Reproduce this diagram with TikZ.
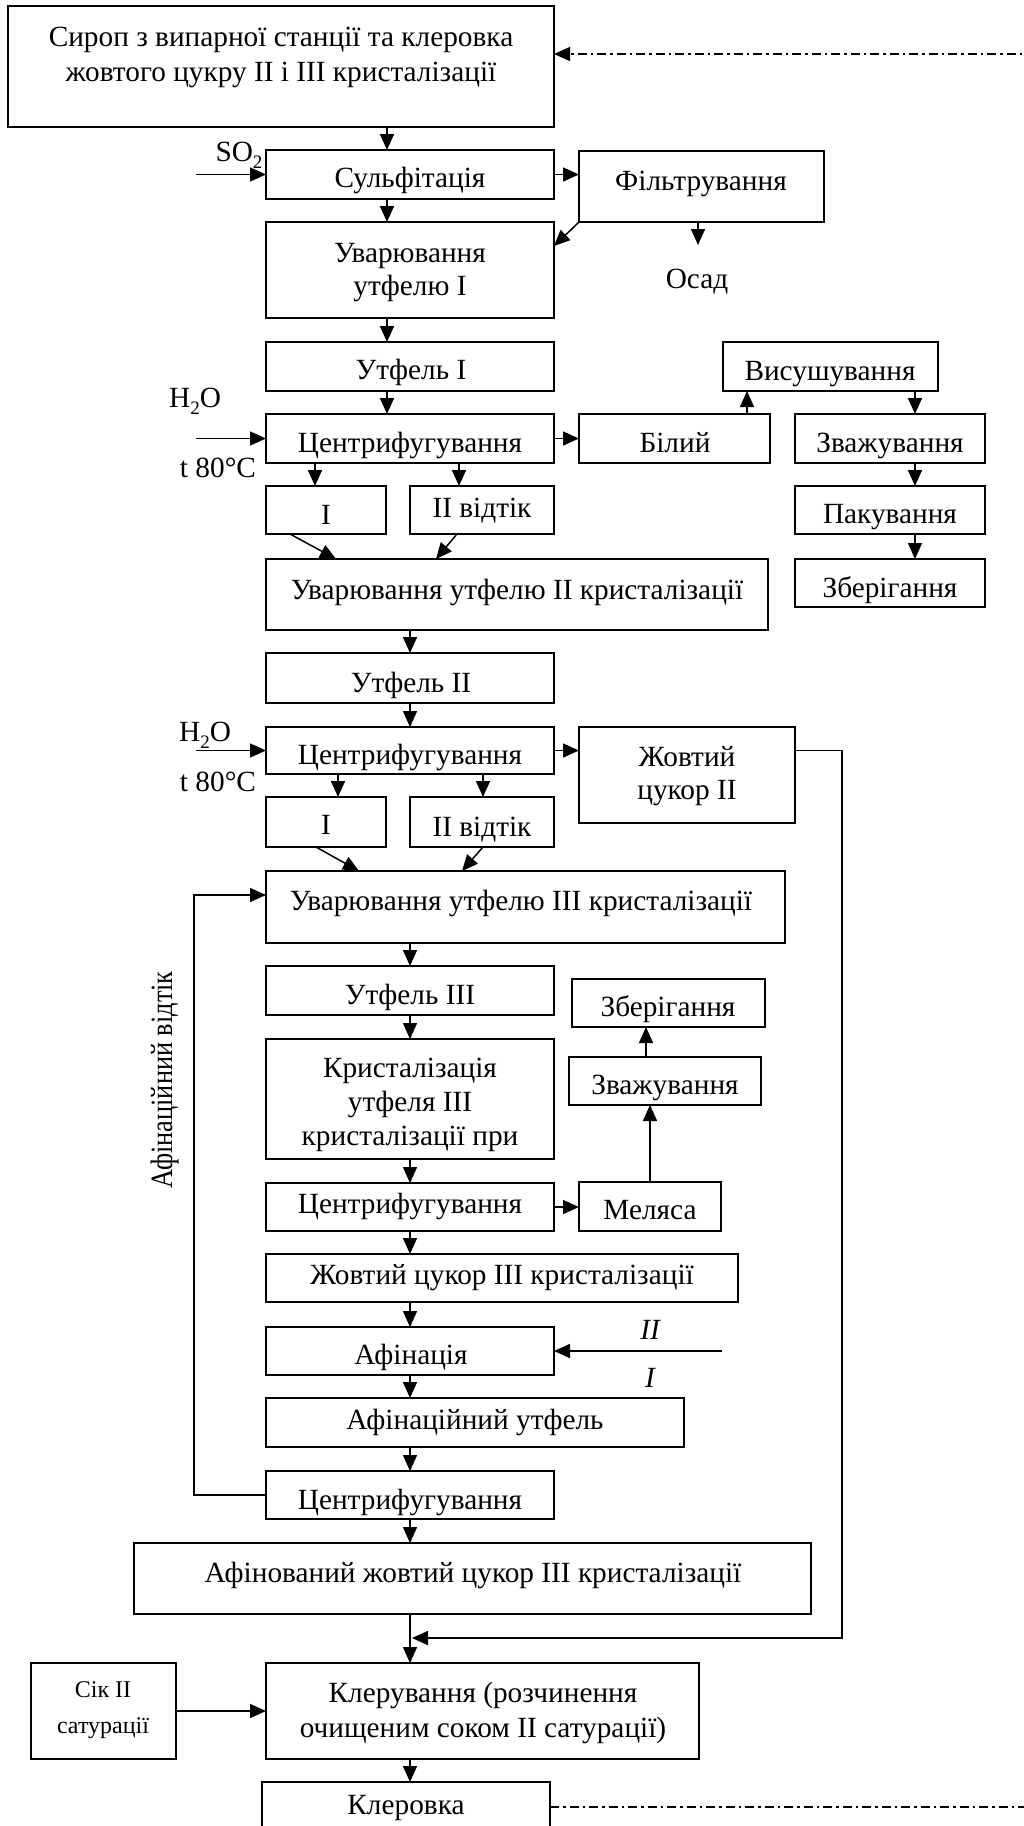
\documentclass[tikz,border=0pt]{standalone}
\usepackage{fontspec}
\setmainfont{Liberation Serif}
\usetikzlibrary{arrows.meta,calc}
\newcommand\bx[5]{\node[box,minimum width={(#4-#2)*1pt},minimum height={(#5-#3)*1pt}] (#1) at (#2,#3) {};}
\newcommand\sub[1]{\raisebox{-0.25em}{\fontsize{19}{19}\selectfont #1}}
\begin{document}
\begin{tikzpicture}[x=1pt,y=-1pt,
 box/.style={draw,line width=1.8pt,inner sep=0pt,outer sep=0pt,anchor=north west},
 txt/.style={font=\fontsize{29.3}{34}\selectfont,inner sep=0pt,anchor=mid,yshift=-7pt},
 stxt/.style={font=\fontsize{24}{28}\selectfont,inner sep=0pt,anchor=mid,yshift=-7pt},
 itxt/.style={txt,font=\fontsize{29.3}{34}\selectfont\itshape},
 vtxt/.style={font=\fontsize{31}{31}\selectfont,inner sep=0pt,anchor=base,rotate=90},
 arr/.style={line width=1.5pt,-{Triangle[length=16pt,width=14pt]}},
 dd/.style={line width=1.5pt,dash pattern=on 9pt off 4pt on 2.5pt off 4pt}]
\useasboundingbox (0,0) rectangle (1023,1826);
% coordinates for connector columns
\coordinate (c387) at (387,0);
\coordinate (c410) at (410,0);
\coordinate (c747) at (747,0);
\coordinate (c915) at (915,0);
\coordinate (c315) at (315,0);
\coordinate (c459) at (459,0);
\coordinate (c290) at (290,0);
\coordinate (c336) at (336,0);
\coordinate (c457) at (457,0);
\coordinate (c436) at (436,0);
\coordinate (c338) at (338,0);
\coordinate (c483) at (483,0);
\coordinate (c316) at (316,0);
\coordinate (c359) at (359,0);
\coordinate (c462) at (462,0);
\coordinate (c650) at (650,0);
\coordinate (c646) at (646,0);
\coordinate (lp) at (194,0);
\coordinate (rr) at (842,0);

% boxes
\bx{top}{8}{6}{554}{127}
\node[txt] (top-a) at (281,37) {Сироп з випарної станції та клеровка};
\node[txt] (top-b) at (281,72) {жовтого цукру II і III кристалізації};
\bx{sulf}{266}{150}{554}{199}
\node[txt] (sulf-t) at (410,178) {Сульфітація};
\bx{filt}{579}{151}{824}{222}
\node[txt] (filt-t) at (701,181) {Фільтрування};
\bx{uv1}{266}{222}{554}{318}
\node[txt] (uv1-a) at (410,253) {Уварювання};
\node[txt] (uv1-b) at (410,286) {утфелю I};
\node[txt] (osad) at (697,279) {Осад};
\node[txt] (so2) at (239,152) {SO\sub{2}};
\bx{ut1}{266}{342}{554}{391}
\node[txt] (ut1-t) at (411,370) {Утфель I};
\node[txt] (h2o-a) at (195,398) {H\sub{2}O};
\bx{cen1}{266}{414}{554}{463}
\node[txt] (cen1-t) at (410,443) {Центрифугування};
\node[txt] (t80-a) at (218,468) {t 80°C};
\bx{bil}{579}{414}{770}{463}
\node[txt] (bil-t) at (675,443) {Білий};
\bx{vis}{723}{342}{938}{391}
\node[txt] (vis-t) at (830,371) {Висушування};
\bx{zv1}{795}{414}{985}{463}
\node[txt] (zv1-t) at (890,443) {Зважування};
\bx{pak}{795}{486}{985}{534}
\node[txt] (pak-t) at (890,514) {Пакування};
\bx{zb1}{795}{559}{985}{607}
\node[txt] (zb1-t) at (890,588) {Зберігання};
\bx{o1}{266}{486}{386}{534}
\node[txt] (o1-t) at (326,515) {I};
\bx{o2}{410}{486}{554}{534}
\node[txt] (o2-t) at (482,508) {II відтік};
\bx{uv2}{266}{559}{768}{630}
\node[txt] (uv2-t) at (517,590) {Уварювання утфелю II кристалізації};
\bx{ut2}{266}{653}{554}{703}
\node[txt] (ut2-t) at (411,683) {Утфель II};
\bx{cen2}{266}{727}{554}{774}
\node[txt] (cen2-t) at (410,755) {Центрифугування};
\node[txt] (h2o-b) at (205,732) {H\sub{2}O};
\node[txt] (t80-b) at (218,782) {t 80°C};
\bx{zh2}{579}{727}{795}{823}
\node[txt] (zh2-a) at (687,757) {Жовтий};
\node[txt] (zh2-b) at (687,790) {цукор II};
\bx{o3}{266}{797}{386}{847}
\node[txt] (o3-t) at (326,825) {I};
\bx{o4}{410}{797}{554}{847}
\node[txt] (o4-t) at (482,827) {II відтік};
\bx{uv3}{266}{871}{785}{943}
\node[txt] (uv3-t) at (521,901) {Уварювання утфелю III кристалізації};
\bx{ut3}{266}{966}{554}{1015}
\node[txt] (ut3-t) at (410,995) {Утфель III};
\bx{zb2}{572}{979}{765}{1027}
\node[txt] (zb2-t) at (668,1007) {Зберігання};
\bx{zv2}{569}{1057}{761}{1105}
\node[txt] (zv2-t) at (665,1085) {Зважування};
\bx{kr}{266}{1039}{554}{1159}
\node[txt] (kr-a) at (410,1068) {Кристалізація};
\node[txt] (kr-b) at (410,1102) {утфеля III};
\node[txt] (kr-c) at (410,1136) {кристалізації при};
\bx{cen3}{266}{1183}{554}{1231}
\node[txt] (cen3-t) at (410,1204) {Центрифугування};
\bx{mel}{579}{1182}{721}{1231}
\node[txt] (mel-t) at (650,1210) {Меляса};
\bx{zh3}{266}{1254}{738}{1302}
\node[txt] (zh3-t) at (502,1275) {Жовтий цукор III кристалізації};
\bx{af}{266}{1327}{554}{1375}
\node[txt] (af-t) at (411,1355) {Афінація};
\node[itxt] (lII) at (650,1330) {II};
\node[itxt] (lI) at (650,1378) {I};
\bx{afu}{266}{1398}{684}{1447}
\node[txt] (afu-t) at (475,1420) {Афінаційний утфель};
\bx{cen4}{266}{1471}{554}{1519}
\node[txt] (cen4-t) at (410,1500) {Центрифугування};
\bx{afin}{134}{1543}{811}{1614}
\node[txt] (afin-t) at (473,1573) {Афінований жовтий цукор III кристалізації};
\bx{sik}{31}{1663}{176}{1759}
\node[stxt] (sik-a) at (103,1688) {Сік II};
\node[stxt] (sik-b) at (103,1724) {сатурації};
\bx{kler}{266}{1663}{699}{1759}
\node[txt] (kler-a) at (483,1693) {Клерування (розчинення};
\node[txt] (kler-b) at (483,1728) {очищеним соком II сатурації)};
\bx{klr}{262}{1782}{550}{1860}
\node[txt] (klr-t) at (406,1805) {Клеровка};
\node[vtxt] (aft) at (172,1080) {\scalebox{0.85}[1]{Афінаційний відтік}};

% free-end coordinates
\coordinate (so2in) at (196,174.5);
\coordinate (h1) at (196,438.5);
\coordinate (h2) at (196,750.5);
\coordinate (osadarr) at (698,245);
\coordinate (uv3in) at (266,895);
\coordinate (afin-in) at (722,1351);
\coordinate (ret) at (412,1638);
\coordinate (rt) at (1035,54);
\coordinate (rb) at (1035,1807);

% connectors
\draw[arr] (top.south -| c387) -- (sulf.north -| c387);
\draw[arr] (sulf.south -| c387) -- (uv1.north -| c387);
\draw[arr] (uv1.south -| c387) -- (ut1.north -| c387);
\draw[arr] (ut1.south -| c387) -- (cen1.north -| c387);
\draw[arr] (so2in) -- (sulf.west);
\draw[arr] (sulf.east) -- (filt.west |- sulf.east);
\draw[arr] (filt.south west) -- ($(uv1.north east)+(0,24)$);
\draw[arr] (filt.south -| osadarr) -- (osadarr);
\draw[arr] (h1) -- (cen1.west);
\draw[arr] (cen1.east) -- (bil.west);
\draw[arr] (bil.north -| c747) -- (vis.south -| c747);
\draw[arr] (vis.south -| c915) -- (zv1.north -| c915);
\draw[arr] (zv1.south -| c915) -- (pak.north -| c915);
\draw[arr] (pak.south -| c915) -- (zb1.north -| c915);
\draw[arr] (cen1.south -| c315) -- (o1.north -| c315);
\draw[arr] (cen1.south -| c459) -- (o2.north -| c459);
\draw[arr] (o1.south -| c290) -- (uv2.north -| c336);
\draw[arr] (o2.south -| c457) -- (uv2.north -| c436);
\draw[arr] (uv2.south -| c410) -- (ut2.north -| c410);
\draw[arr] (ut2.south -| c410) -- (cen2.north -| c410);
\draw[arr] (h2) -- (cen2.west);
\draw[arr] (cen2.east) -- (zh2.west |- cen2.east);
\draw[arr] (cen2.south -| c338) -- (o3.north -| c338);
\draw[arr] (cen2.south -| c483) -- (o4.north -| c483);
\draw[arr] (o3.south -| c316) -- (uv3.north -| c359);
\draw[arr] (o4.south -| c483) -- (uv3.north -| c462);
\draw[arr] (uv3.south -| c410) -- (ut3.north -| c410);
\draw[arr] (ut3.south -| c410) -- (kr.north -| c410);
\draw[arr] (kr.south -| c410) -- (cen3.north -| c410);
\draw[arr] (cen3.east) -- (mel.west |- cen3.east);
\draw[arr] (mel.north -| c650) -- (zv2.south -| c650);
\draw[arr] (zv2.north -| c646) -- (zb2.south -| c646);
\draw[arr] (cen3.south -| c410) -- (zh3.north -| c410);
\draw[arr] (zh3.south -| c410) -- (af.north -| c410);
\draw[arr] (afin-in) -- (af.east);
\draw[arr] (af.south -| c410) -- (afu.north -| c410);
\draw[arr] (afu.south -| c410) -- (cen4.north -| c410);
\draw[arr] (cen4.west) -- (lp |- cen4.west) -- (lp |- uv3in) -- (uv3in);
\draw[arr] (cen4.south -| c410) -- (afin.north -| c410);
\draw[arr] (zh2.east |- cen2.east) -- (rr |- cen2.east) -- (rr |- ret) -- (ret);
\draw[arr] (afin.south -| c410) -- (kler.north -| c410);
\draw[arr] (sik.east) -- (kler.west);
\draw[arr] (kler.south -| c410) -- (klr.north -| c410);
\draw[dd,-{Triangle[length=16pt,width=14pt]}] (rt) -- (top.east |- rt);
\draw[dd] (klr.east |- rb) -- (rb);
\end{tikzpicture}
\end{document}
